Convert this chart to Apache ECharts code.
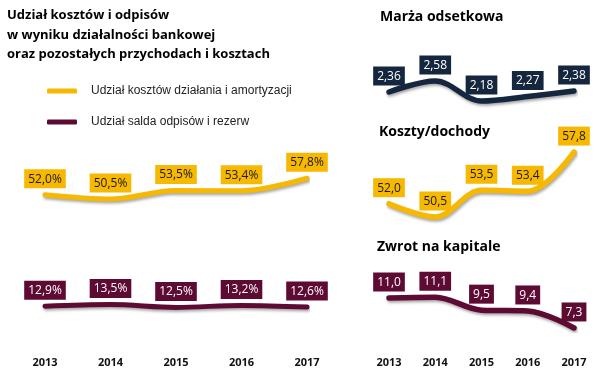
<!DOCTYPE html>
<html><head><meta charset="utf-8">
<script src="https://cdn.jsdelivr.net/npm/echarts@6/dist/echarts.min.js"></script>
<style>html,body{margin:0;padding:0;background:#fff}#c{width:598px;height:379px}</style>
</head><body><div id="c"></div>
<script>
const years = ['2013','2014','2015','2016','2017'];
const costShare = [52.0, 50.5, 53.5, 53.4, 57.8];
const provisionShare = [12.9, 13.5, 12.5, 13.2, 12.6];
const interestMargin = [2.36, 2.58, 2.18, 2.27, 2.38];
const costIncome = [52.0, 50.5, 53.5, 53.4, 57.8];
const roe = [11.0, 11.1, 9.5, 9.4, 7.3];

const YEL = '#F6B800', MAR = '#5E0B33', NAVY = '#15263F';
const FONT = 'Open Sans';
const fmt = d => (v => v.toFixed(d).replace('.', ','));
const shadow = {shadowColor:'rgba(0,0,0,0.35)', shadowBlur:3, shadowOffsetX:1, shadowOffsetY:2};

function lbl(bg, fg, f) {
  return {show:true, position:'top', distance:6, backgroundColor:bg, color:fg,
    fontFamily:FONT, fontSize:12, padding:[4,4,3,4], formatter: p => f(p.value)};
}
function line(name, data, color, gi, lw, label) {
  return {name, type:'line', data, xAxisIndex:gi, yAxisIndex:gi, smooth:0.35,
    symbol:'circle', symbolSize:1, showSymbol:true,
    lineStyle:Object.assign({color, width:lw, cap:'round'}, shadow),
    itemStyle:{color}, label, labelLayout:{hideOverlap:false}};
}
const yearLabel = (show, margin) => ({show, fontFamily:FONT, fontWeight:'bold', fontSize:11, color:'#111', margin});

const chart = echarts.init(document.getElementById('c'));
chart.setOption({
  animation:false,
  title:[
    {text:'Udział kosztów i odpisów\nw wyniku działalności bankowej\noraz pozostałych przychodach i kosztach',
     left:2, top:1, textStyle:{fontFamily:FONT, fontWeight:'bold', fontSize:13, lineHeight:19.5, color:'#000'}},
    {text:'Marża odsetkowa', left:375, top:5, textStyle:{fontFamily:FONT, fontWeight:'bold', fontSize:14, color:'#000'}},
    {text:'Koszty/dochody', left:374, top:120, textStyle:{fontFamily:FONT, fontWeight:'bold', fontSize:14, color:'#000'}},
    {text:'Zwrot na kapitale', left:372, top:235, textStyle:{fontFamily:FONT, fontWeight:'bold', fontSize:14, color:'#000'}}
  ],
  legend:{orient:'vertical', left:42, top:80, itemWidth:30, itemHeight:5, itemGap:19, icon:'roundRect',
    data:['Udział kosztów działania i amortyzacji','Udział salda odpisów i rezerw'],
    textStyle:{fontFamily:'Liberation Sans', fontSize:12, color:'#222', padding:[0,0,0,9]}},
  grid:[
    {left:45, right:291, top:172, bottom:36},
    {left:389, right:24, top:70, height:40},
    {left:389, right:24, top:150.3, height:71.2},
    {left:389, right:24, top:289.9, height:40.5}
  ],
  xAxis:[0,1,2,3].map(i => ({type:'category', gridIndex:i, data:years, boundaryGap:false,
    axisLine:{show:false}, axisTick:{show:false},
    axisLabel: yearLabel(i===0 || i===3, i===0 ? 14 : 26.5)})),
  yAxis:[
    {gridIndex:0, type:'value', min:0, max:60, show:false},
    {gridIndex:1, type:'value', min:2.0, max:2.8, show:false},
    {gridIndex:2, type:'value', min:50, max:58, show:false},
    {gridIndex:3, type:'value', min:7, max:12, show:false}
  ],
  series:[
    line('Udział kosztów działania i amortyzacji', costShare, YEL, 0, 5, lbl(YEL, '#1a1a1a', v => fmt(1)(v)+'%')),
    line('Udział salda odpisów i rezerw', provisionShare, MAR, 0, 5, lbl(MAR, '#fff', v => fmt(1)(v)+'%')),
    line('Marża odsetkowa', interestMargin, NAVY, 1, 5.5, lbl(NAVY, '#fff', fmt(2))),
    line('Koszty/dochody', costIncome, YEL, 2, 5.5, lbl(YEL, '#1a1a1a', fmt(1))),
    line('Zwrot na kapitale', roe, MAR, 3, 5.5, lbl(MAR, '#fff', fmt(1)))
  ]
});
</script></body></html>
